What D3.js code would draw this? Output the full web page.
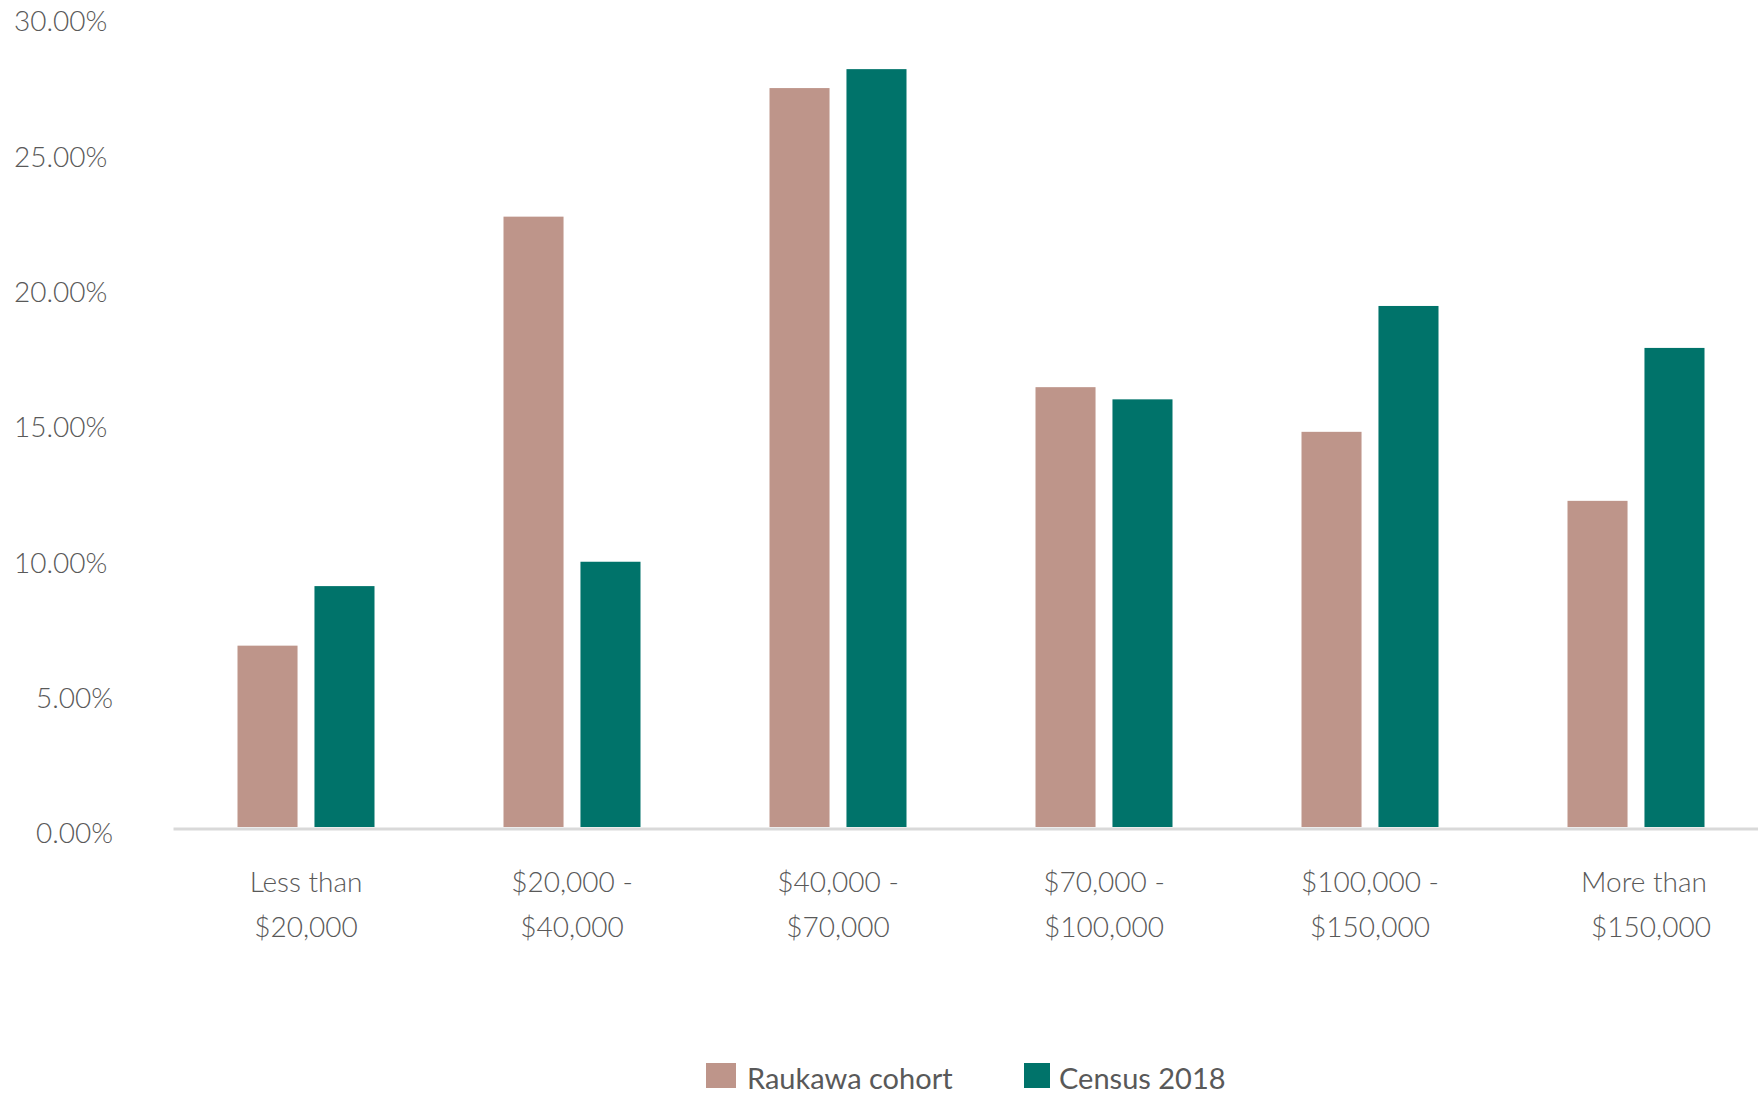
<!DOCTYPE html>
<html>
<head>
<meta charset="utf-8">
<script src="https://cdn.jsdelivr.net/npm/d3@7"></script>
<style>
  body { margin: 0; background: #fff; }
  svg { display: block; font-family: Lato, "Open Sans", sans-serif; }
</style>
</head>
<body>
<svg id="chart" width="1758" height="1097"></svg>
<script>
// data
const categories = ["Less than\n$20,000", "$20,000 -\n$40,000", "$40,000 -\n$70,000",
                    "$70,000 -\n$100,000", "$100,000 -\n$150,000", "More than\n$150,000"]
const seriesNames = ["Raukawa cohort", "Census 2018"]
const raukawa = [6.7, 22.55, 27.3, 16.25, 14.6, 12.05]
const census = [8.9, 9.8, 28.0, 15.8, 19.25, 17.7]
const yTicks = [0, 5, 10, 15, 20, 25, 30]
const colors = ["#BE958A", "#00736A"]

const svg = d3.select("#chart")
const textColor = "#595959"

// AXES
const x0 = d3.scaleBand()
    .domain(categories)
    .range([173, 1769])
    .paddingInner(0)

const y = d3.scaleLinear()
    .domain([0, 30])
    .range([827, 15])

const yAxis = svg.append("g")
    .attr("transform", "translate(0,7)")
    .call(d3.axisLeft(y).tickValues(yTicks).tickSize(0).tickPadding(0)
        .tickFormat(d => d3.format(".2f")(d) + "%"))
yAxis.select(".domain").remove()
// labels in the original start at a fixed x, one-digit values pushed right
yAxis.selectAll("text")
    .attr("text-anchor", "start")
    .attr("x", d => d < 10 ? 36 : 14)
    .style("font-size", "28px")
    .style("font-weight", "300")
    .style("font-family", "Lato, sans-serif")
    .attr("fill", textColor)

const xAxis = svg.append("g")
    .attr("transform", "translate(0,828.5)")
    .call(d3.axisBottom(x0).tickSize(0).tickFormat(""))
xAxis.select(".domain")
    .attr("stroke", "#D9D9D9")
    .attr("stroke-width", 3)
// END AXES

// two-line category labels
const lastShift = [8, 15]
categories.forEach((c, ci) => {
    const lines = c.split("\n")
    const t = svg.append("text")
        .attr("text-anchor", "middle")
        .attr("fill", textColor)
        .style("font-size", "28px")
        .style("font-weight", "300")
    lines.forEach((l, i) => {
        t.append("tspan")
            .attr("x", x0(c) + x0.bandwidth() / 2 + (ci == categories.length - 1 ? lastShift[i] : 0))
            .attr("y", 892 + i * 45)
            .text(l)
    })
})

// bars
const groupWidth = 137
const x1 = d3.scaleBand()
    .domain(seriesNames)
    .range([0, groupWidth])
    .paddingInner(0.22)

const allSeries = [raukawa, census]
allSeries.forEach((vals, s) => {
    svg.append("g").selectAll("rect")
        .data(vals)
        .join("rect")
        .attr("x", (d, i) => x0(categories[i]) + x0.bandwidth() / 2 - groupWidth / 2 + x1(seriesNames[s]))
        .attr("y", d => y(d))
        .attr("width", x1.bandwidth())
        .attr("height", d => y(0) - y(d))
        .attr("fill", colors[s])
})

// legend
const legendX = [706, 1024]
seriesNames.forEach((name, i) => {
    svg.append("rect")
        .attr("x", legendX[i])
        .attr("y", 1063)
        .attr("width", i == 0 ? 30 : 26)
        .attr("height", 25)
        .attr("fill", colors[i])
    svg.append("text")
        .attr("x", legendX[i] + (i == 0 ? 41 : 35))
        .attr("y", 1089)
        .attr("fill", textColor)
        .style("font-size", "29px")
        .style("font-weight", "400")
        .text(name)
})
</script>
</body>
</html>
